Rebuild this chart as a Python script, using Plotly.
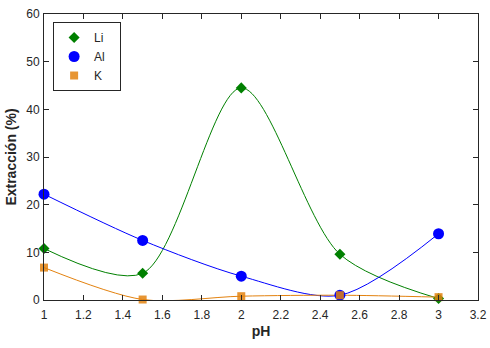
import plotly.graph_objects as go

ph = [1, 1.5, 2, 2.5, 3]
li = [10.8, 5.6, 44.5, 9.6, 0.3]
al = [22.2, 12.5, 5.0, 1.0, 13.9]
k = [6.8, 0.1, 0.8, 1.0, 0.6]
x_ticks = [1, 1.2, 1.4, 1.6, 1.8, 2, 2.2, 2.4, 2.6, 2.8, 3, 3.2]
y_ticks = [0, 10, 20, 30, 40, 50, 60]

FONT = "Liberation Sans, Arial, sans-serif"
AX = "#262626"

fig = go.Figure()
series = [
    ("Li", li, "#008000", "diamond", 8.5),
    ("Al", al, "#0000ff", "circle", 11),
    ("K", k, "#e3820f", "square", 8),
]
for name, vals, col, sym, sz in series:
    fig.add_trace(go.Scatter(
        x=ph, y=vals, mode="lines", line=dict(color=col, width=1, shape="spline", smoothing=0.85),
        showlegend=False, hoverinfo="skip", cliponaxis=False))
for name, vals, col, sym, sz in series:
    fig.add_trace(go.Scatter(
        x=ph, y=vals, mode="markers", name=name + "   ",
        marker=dict(color=col, symbol=sym, size=sz, line=dict(width=0),
                    opacity=0.85 if name == "K" else 1),
        cliponaxis=False))

axis_common = dict(
    showgrid=False, zeroline=False, showline=True, linecolor=AX, linewidth=1,
    mirror="ticks", ticks="inside", ticklen=5, tickcolor=AX, automargin=False,
    tickfont=dict(family=FONT, size=12, color=AX),
)
fig.update_xaxes(range=[1, 3.2], tickvals=x_ticks, ticktext=[f"{v:g}" for v in x_ticks],
                 ticklabelstandoff=4,
                 title=dict(text="<b>pH</b>", font=dict(family=FONT, size=14, color=AX), standoff=4),
                 **axis_common)
fig.update_yaxes(range=[0, 60], tickvals=y_ticks, ticklabelstandoff=1,
                 title=dict(text="<b>Extracción (%)</b>", font=dict(family=FONT, size=14, color=AX), standoff=6),
                 **axis_common)
fig.update_layout(
    width=490, height=348,
    margin=dict(l=44, r=12, t=14, b=48),
    paper_bgcolor="white", plot_bgcolor="white",
    font=dict(family=FONT, color=AX),
    legend=dict(x=0.021, y=0.972, xanchor="left", yanchor="top",
                bgcolor="white", bordercolor=AX, borderwidth=1,
                font=dict(family=FONT, size=12, color=AX), tracegroupgap=0,
                itemwidth=30),
)
fig.write_html("out.html", config={"displayModeBar": False},
               post_script="document.body.style.margin='0';document.body.style.padding='0';")
